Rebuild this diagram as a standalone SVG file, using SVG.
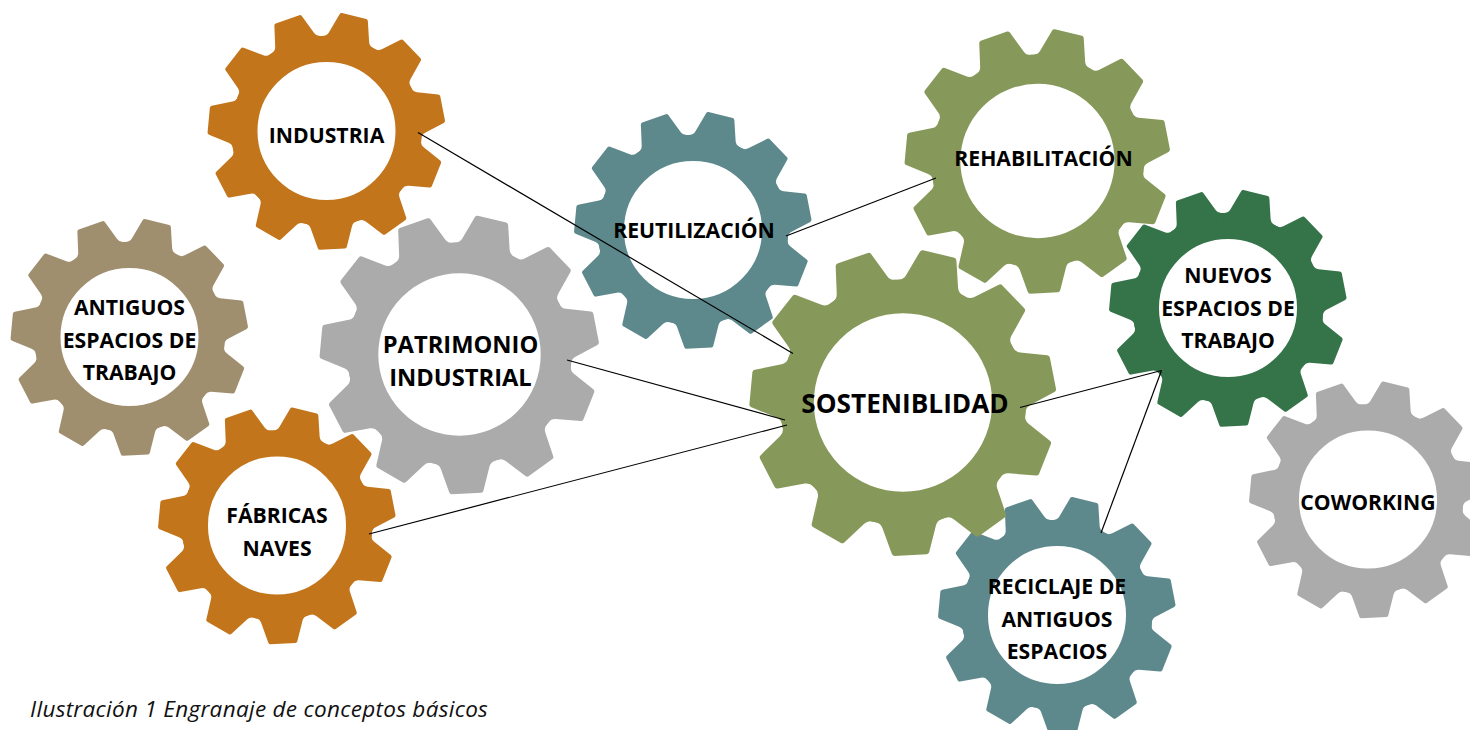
<svg xmlns="http://www.w3.org/2000/svg" width="1470" height="730" viewBox="0 0 1470 730">
<style>
.orange{color:#c2751a}.tan{color:#a08f6e}.gray{color:#ababab}.teal{color:#5e898c}.olive{color:#87995a}.dark{color:#357349}
.t{font-family:"Open Sans","Noto Sans",sans-serif;font-weight:700;font-size:21.2px;fill:#000;text-anchor:middle}
.m{font-size:23.7px}.l{font-size:26.2px}
.cap{font-family:"Open Sans","Noto Sans",sans-serif;font-style:italic;font-size:22.5px;letter-spacing:.3px;fill:#111}
#connectors line{stroke:#000;stroke-width:1.2}
</style>
<defs>
<path id="tooth" d="M-19.7 -67.2L-22.5 -76.8L-21.6 -77Q-18.4 -77.8 -17.4 -81L-12.2 -98Q-11.8 -99.3 -10.5 -99.4L10.5 -99.4Q11.8 -99.3 12.2 -98L17.4 -81Q18.4 -77.8 21.6 -77L22.5 -76.8L19.7 -67.2Z"/>
<g id="gear" fill="currentColor">
<circle r="69" fill="none" stroke="currentColor" stroke-width="22"/>
<use href="#tooth" transform="rotate(13.5)"/>
<use href="#tooth" transform="rotate(46.23)"/>
<use href="#tooth" transform="rotate(78.95)"/>
<use href="#tooth" transform="rotate(111.68)"/>
<use href="#tooth" transform="rotate(144.41)"/>
<use href="#tooth" transform="rotate(177.14)"/>
<use href="#tooth" transform="rotate(209.86)"/>
<use href="#tooth" transform="rotate(242.59)"/>
<use href="#tooth" transform="rotate(275.32)"/>
<use href="#tooth" transform="rotate(308.05)"/>
<use href="#tooth" transform="rotate(340.77)"/>
</g>
</defs>
<rect width="1470" height="730" fill="#fff"/>
<g id="reutilizacion"><use href="#gear" class="teal" transform="translate(693 230) scale(1.19)"/><text class="t" x="694" y="238">REUTILIZACIÓN</text></g>
<g id="rehabilitacion"><use href="#gear" class="olive" transform="translate(1037.5 161) scale(1.33)"/><text class="t" x="1043.5" y="166">REHABILITACIÓN</text></g>
<g id="reciclaje"><use href="#gear" class="teal" transform="translate(1057 615) scale(1.19)"/><text class="t"><tspan x="1057" y="593.5">RECICLAJE DE</tspan><tspan x="1057" y="626.5">ANTIGUOS</tspan><tspan x="1057" y="659">ESPACIOS</tspan></text></g>
<g id="sostenibilidad"><use href="#gear" class="olive" transform="translate(903 402.5) scale(1.537)"/><text class="t l" x="905" y="413">SOSTENIBLIDAD</text></g>
<g id="industria"><use href="#gear" class="orange" transform="translate(326.5 131) scale(1.19)"/><text class="t" x="326.5" y="143">INDUSTRIA</text></g>
<g id="antiguos"><use href="#gear" class="tan" transform="translate(129.5 337) scale(1.19)"/><text class="t"><tspan x="129.5" y="315">ANTIGUOS</tspan><tspan x="129.5" y="347.5">ESPACIOS DE</tspan><tspan x="129.5" y="380">TRABAJO</tspan></text></g>
<g id="patrimonio"><use href="#gear" class="gray" transform="translate(459.5 354.5) scale(1.4)"/><text class="t m"><tspan x="460.5" y="353">PATRIMONIO</tspan><tspan x="460.5" y="386">INDUSTRIAL</tspan></text></g>
<g id="fabricas"><use href="#gear" class="orange" transform="translate(277 525.5) scale(1.19)"/><text class="t"><tspan x="277" y="523">FÁBRICAS</tspan><tspan x="277" y="556">NAVES</tspan></text></g>
<g id="nuevos"><use href="#gear" class="dark" transform="translate(1228 308) scale(1.19)"/><text class="t"><tspan x="1228" y="283">NUEVOS</tspan><tspan x="1228" y="316">ESPACIOS DE</tspan><tspan x="1228" y="348">TRABAJO</tspan></text></g>
<g id="coworking"><use href="#gear" class="gray" transform="translate(1368 499.5) scale(1.19)"/><text class="t" x="1368" y="510">COWORKING</text></g>
<g id="connectors">
<line x1="418" y1="132.5" x2="793" y2="353.5"/>
<line x1="567" y1="360" x2="785" y2="420"/>
<line x1="369" y1="534" x2="787" y2="425"/>
<line x1="786" y1="236" x2="936" y2="178"/>
<line x1="1020" y1="407.5" x2="1161.5" y2="370.5"/>
<line x1="1101" y1="533" x2="1161.5" y2="370.5"/>
</g>
<text class="cap" x="30" y="717">Ilustración 1 Engranaje de conceptos básicos</text>
</svg>
